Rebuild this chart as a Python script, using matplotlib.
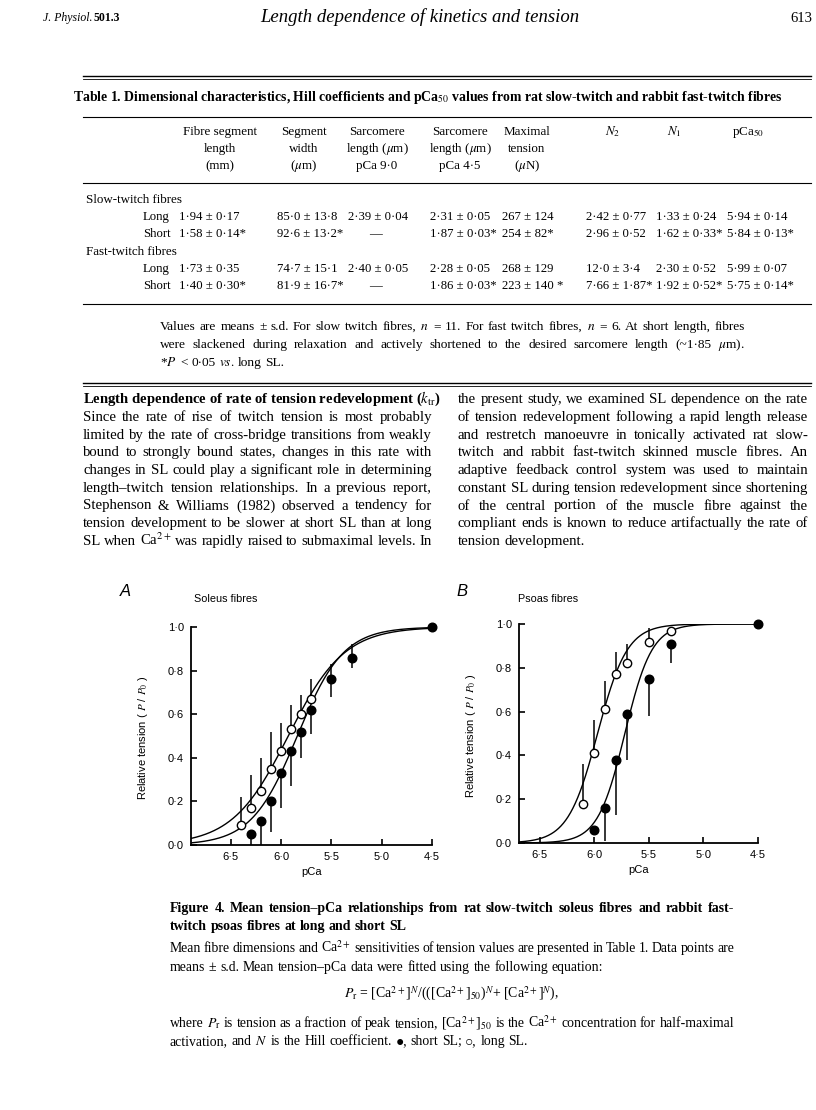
import numpy as np
import matplotlib
matplotlib.use("Agg")
import matplotlib.pyplot as plt
from matplotlib.ticker import FixedLocator, FuncFormatter

plt.rcParams["font.family"] = ["Liberation Serif", "DejaVu Sans"]
plt.rcParams["mathtext.fontset"] = "stix"

# ---- table 1 ----
col_heads = [["Fibre segment", "length", "(mm)"],
             ["Segment", "width", "($\\mu$m)"],
             ["Sarcomere", "length ($\\mu$m)", "pCa 9·0"],
             ["Sarcomere", "length ($\\mu$m)", "pCa 4·5"],
             ["Maximal", "tension", "($\\mu$N)"],
             ["$N_2$", "", ""],
             ["$N_1$", "", ""],
             ["pCa$_{50}$", "", ""]]
slow_long = ["1·94 ± 0·17", "85·0 ± 13·8", "2·39 ± 0·04", "2·31 ± 0·05", "267 ± 124",
             "2·42 ± 0·77", "1·33 ± 0·24", "5·94 ± 0·14"]
slow_short = ["1·58 ± 0·14*", "92·6 ± 13·2*", "—", "1·87 ± 0·03*", "254 ± 82*",
              "2·96 ± 0·52", "1·62 ± 0·33*", "5·84 ± 0·13*"]
fast_long = ["1·73 ± 0·35", "74·7 ± 15·1", "2·40 ± 0·05", "2·28 ± 0·05", "268 ± 129",
             "12·0 ± 3·4", "2·30 ± 0·52", "5·99 ± 0·07"]
fast_short = ["1·40 ± 0·30*", "81·9 ± 16·7*", "—", "1·86 ± 0·03*", "223 ± 140 *",
              "7·66 ± 1·87*", "1·92 ± 0·52*", "5·75 ± 0·14*"]

# ---- figure 4, panel A (soleus) ----
a_long_pca = [6.4, 6.3, 6.2, 6.1, 6.0, 5.9, 5.8, 5.7]
a_long_p = [0.09, 0.17, 0.25, 0.35, 0.43, 0.53, 0.60, 0.67]
a_long_sd = [0.13, 0.15, 0.15, 0.17, 0.13, 0.11, 0.09, 0.09]
a_short_pca = [6.3, 6.2, 6.1, 6.0, 5.9, 5.8, 5.7, 5.5, 5.3, 4.5]
a_short_p = [0.05, 0.11, 0.20, 0.33, 0.43, 0.52, 0.62, 0.76, 0.86, 1.0]
a_short_lo = [0.05, 0.11, 0.14, 0.16, 0.16, 0.12, 0.11, 0.08, 0.05, 0.0]
a_short_hi = [0, 0, 0, 0, 0, 0, 0, 0.07, 0.06, 0]
a_fit = {"long": (5.93, 1.56), "short": (5.84, 1.90)}   # (pCa50, N)

# ---- panel B (psoas) ----
b_long_pca = [6.1, 6.0, 5.9, 5.8, 5.7, 5.5, 5.3]
b_long_p = [0.18, 0.41, 0.61, 0.77, 0.82, 0.92, 0.97]
b_long_sd = [0.18, 0.15, 0.13, 0.10, 0.09, 0.06, 0.0]
b_short_pca = [6.0, 5.9, 5.8, 5.7, 5.5, 5.3, 4.5]
b_short_p = [0.06, 0.16, 0.38, 0.59, 0.75, 0.91, 1.0]
b_short_lo = [0.0, 0.15, 0.25, 0.21, 0.17, 0.09, 0.0]
b_short_hi = [0, 0, 0, 0, 0, 0, 0]
b_fit = {"long": (5.97, 3.2), "short": (5.72, 3.5)}

W, H = 816, 1110
fig = plt.figure(figsize=(W / 100, H / 100), dpi=100)
rend = fig.canvas.get_renderer()


def put(x, y, s, size=9.5, **kw):
    kw.setdefault("va", "baseline")
    return fig.text(x / W, 1 - y / H, s, fontsize=size, **kw)


def line(x0, x1, y, s, fit=True, size=9.5, **kw):
    # words placed one by one so the line can be justified
    words = s.split(" ")
    arts = [put(0, y, w, size=size, **kw) for w in words]
    ws = [a.get_window_extent(rend).width for a in arts]
    if fit and len(words) > 1:
        gap = (x1 - x0 - sum(ws)) / (len(words) - 1)
    else:
        gap = 0.26 * size * 100 / 72
    x = x0
    for a, w in zip(arts, ws):
        a.set_x(x / W)
        x += w + gap


def rule(y, x0=83, x1=811, lw=0.8):
    fig.add_artist(plt.Line2D([x0 / W, x1 / W], [1 - y / H, 1 - y / H], color="k", lw=lw))


# page header
put(43, 21, "J. Physiol.", size=8.5, style="italic")
put(94, 21, "501.3", size=8.5, weight="bold")
put(420, 22, "Length dependence of kinetics and tension", size=13.5, style="italic", ha="center")
put(812, 22, "613", size=10.5, ha="right")

# table
rule(76, lw=1.0)
rule(79, lw=0.6)
put(428, 101, "Table 1. Dimensional characteristics, Hill coefficients and pCa$_{50}$ values from rat "
    "slow-twitch and rabbit fast-twitch fibres", size=9.9, weight="bold", ha="center")
rule(117)
head_x = [220, 304, 377, 460, 527, 613, 674, 748]
val_x = [179, 277, 348, 430, 502, 586, 656, 727]
for cx, hs in zip(head_x, col_heads):
    for k, h in enumerate(hs):
        put(cx, 135 + 17 * k, h, size=9.4, ha="center")
rule(183)
put(86, 203, "Slow-twitch fibres", size=9.4)
put(86, 255, "Fast-twitch fibres", size=9.4)
rows = [(220, "Long", slow_long), (237, "Short", slow_short),
        (272, "Long", fast_long), (289, "Short", fast_short)]
for y, lab, vals in rows:
    put(143, y, lab, size=9.2)
    for vx, v in zip(val_x, vals):
        if v == "—":
            put(375, y, v, size=9.2, ha="center")
        else:
            put(vx, y, v, size=9.2)
rule(304)
line(160, 745, 330, "Values are means ± s.d. For slow twitch fibres, $n$ = 11. For fast twitch fibres, "
     "$n$ = 6. At short length, fibres", size=9.6)
line(160, 745, 348, "were slackened during relaxation and actively shortened to the desired sarcomere "
     "length (~1·85 $\\mu$m).", size=9.6)
line(160, 745, 366, "*$P$ < 0·05 $vs.$ long SL.", fit=False, size=9.6)
rule(383, lw=1.0)
rule(386, lw=0.6)

# body text
left_col = ["Since the rate of rise of twitch tension is most probably",
            "limited by the rate of cross-bridge transitions from weakly",
            "bound to strongly bound states, changes in this rate with",
            "changes in SL could play a significant role in determining",
            "length–twitch tension relationships. In a previous report,",
            "Stephenson & Williams (1982) observed a tendency for",
            "tension development to be slower at short SL than at long",
            "SL when Ca$^{2+}$ was rapidly raised to submaximal levels. In"]
right_col = ["the present study, we examined SL dependence on the rate",
             "of tension redevelopment following a rapid length release",
             "and restretch manoeuvre in tonically activated rat slow-",
             "twitch and rabbit fast-twitch skinned muscle fibres. An",
             "adaptive feedback control system was used to maintain",
             "constant SL during tension redevelopment since shortening",
             "of the central portion of the muscle fibre against the",
             "compliant ends is known to reduce artifactually the rate of",
             "tension development."]
lead = 17.75
put(83, 403, "Length dependence of rate of tension redevelopment ($k_{\\mathrm{tr}}$)",
    size=10.6, weight="bold")
for i, s in enumerate(left_col):
    line(83, 432, 403 + lead * (i + 1), s, size=10.6)
for i, s in enumerate(right_col):
    line(458, 808, 403 + lead * i, s, fit=i < len(right_col) - 1, size=10.6)


# panels
def hill(x, pca50, n):
    return 1.0 / (1.0 + 10 ** (n * (x - pca50)))


def panel(rect, xmin, lx, ly, lsd, sx, sy, slo, shi, fits):
    ax = fig.add_axes(rect)
    xs = np.linspace(xmin, 4.5, 400)
    for key in ("long", "short"):
        ax.plot(xs, hill(xs, *fits[key]), color="k", lw=1.0, zorder=2)
    ax.errorbar(lx, ly, yerr=[np.zeros(len(lsd)), lsd], fmt="none", ecolor="k", elinewidth=1.1,
                capsize=0, zorder=2, clip_on=False)
    ax.errorbar(sx, sy, yerr=[slo, shi], fmt="none", ecolor="k", elinewidth=1.1,
                capsize=0, zorder=2, clip_on=False)
    ax.plot(lx, ly, "o", ms=6, mfc="white", mec="k", mew=1.0, zorder=4, clip_on=False)
    ax.plot(sx, sy, "o", ms=6.2, mfc="k", mec="k", zorder=4, clip_on=False)
    ax.set_xlim(xmin, 4.5)
    ax.set_ylim(0, 1)
    for s in ("top", "right"):
        ax.spines[s].set_visible(False)
    for s in ("left", "bottom"):
        ax.spines[s].set_linewidth(1.3)
    ax.xaxis.set_major_locator(FixedLocator([6.5, 6.0, 5.5, 5.0, 4.5]))
    ax.yaxis.set_major_locator(FixedLocator([0, 0.2, 0.4, 0.6, 0.8, 1.0]))
    fmt = FuncFormatter(lambda v, p: f"{v:.1f}".replace(".", "·"))
    ax.xaxis.set_major_formatter(fmt)
    ax.yaxis.set_major_formatter(fmt)
    ax.tick_params(direction="in", length=4, width=1.2, labelsize=8, pad=5)
    for t in ax.get_xticklabels() + ax.get_yticklabels():
        t.set_family("Liberation Sans")
    ax.set_xlabel("pCa", fontsize=8, family="Liberation Sans")
    ax.set_ylabel("Relative tension ( $P$ / $P_0$ )", fontsize=8, family="Liberation Sans")
    ax.xaxis.set_label_coords(0.5, -0.10)
    ax.yaxis.set_label_coords(-0.17, 0.49)
    ax.patch.set_alpha(0)
    return ax


panel([190.7 / W, 1 - 845 / H, 241.3 / W, 218 / H], 6.9,
      a_long_pca, a_long_p, a_long_sd, a_short_pca, a_short_p, a_short_lo, a_short_hi, a_fit)
panel([519 / W, 1 - 843 / H, 239 / W, 219 / H], 6.69,
      b_long_pca, b_long_p, b_long_sd, b_short_pca, b_short_p, b_short_lo, b_short_hi, b_fit)
put(125, 596, "A", size=12, style="italic", family="Liberation Sans", ha="center")
put(194, 602, "Soleus fibres", size=7.8, family="Liberation Sans")
put(462, 596, "B", size=12, style="italic", family="Liberation Sans", ha="center")
put(518, 602, "Psoas fibres", size=7.8, family="Liberation Sans")

# caption
cx0, cx1 = 170, 734
line(cx0, cx1, 912, "Figure 4. Mean tension–pCa relationships from rat slow-twitch soleus fibres and "
     "rabbit fast-", size=10, weight="bold")
line(cx0, cx1, 930, "twitch psoas fibres at long and short SL", fit=False, size=10, weight="bold")
line(cx0, cx1, 952, "Mean fibre dimensions and Ca$^{2+}$ sensitivities of tension values are presented "
     "in Table 1. Data points are", size=9.9)
line(cx0, cx1, 971, "means ± s.d. Mean tension–pCa data were fitted using the following equation:",
     fit=False, size=9.9)
put(452, 998, "$P_{\\mathrm{r}}$ = [Ca$^{2+}$]$^N$/(([Ca$^{2+}$]$_{50}$)$^N$+ [Ca$^{2+}$]$^N$),",
    size=9.9, ha="center")
line(cx0, cx1, 1027, "where $P_{\\mathrm{r}}$ is tension as a fraction of peak tension, [Ca$^{2+}$]$_{50}$ "
     "is the Ca$^{2+}$ concentration for half-maximal", size=9.9)
line(cx0, cx1, 1045, "activation, and $N$ is the Hill coefficient. ●, short SL; ○, long SL.",
     fit=False, size=9.9)

fig.savefig("out.png", dpi=100)
